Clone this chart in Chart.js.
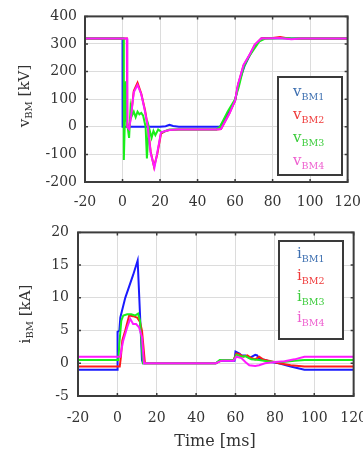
<!DOCTYPE html>
<html>
<head>
<meta charset="utf-8">
<script src="https://cdn.jsdelivr.net/npm/chart.js@4.4.1/dist/chart.umd.min.js"></script>
<style>
  html, body { margin: 0; padding: 0; background: #fff; overflow: hidden; }
  body { width: 363px; height: 455px; position: relative; font-family: "DejaVu Serif", serif; color: #333; }
  .box { position: absolute; }
  .ytitle { position: absolute; white-space: nowrap; font-size: 15px; transform: translate(-50%, -50%) rotate(-90deg); }
  .ytitle sub { font-size: 10px; vertical-align: -3px; }
  .legend { position: absolute; border: 2px solid #3a3a3a; background: #fff; box-sizing: border-box; }
  .entry { position: absolute; white-space: nowrap; font-size: 15px; line-height: 15px; }
  .entry sub { font-size: 9.5px; vertical-align: -4px; }
  .xtitle { position: absolute; font-size: 16px; white-space: nowrap; transform: translate(-50%, -50%); }
</style>
</head>
<body>
<div class="box" style="left:0;top:0;width:373px;height:228px"><canvas id="vChart"></canvas></div>
<div class="box" style="left:0;top:215px;width:381px;height:240px"><canvas id="iChart"></canvas></div>

<div class="ytitle" style="left:24px;top:96px">v<sub>BM</sub> [kV]</div>
<div class="ytitle" style="left:25px;top:314px">i<sub>BM</sub> [kA]</div>
<div class="xtitle" style="left:215px;top:440px">Time [ms]</div>

<div class="legend" style="left:277px;top:76px;width:66px;height:100px"></div>
<div class="entry" style="left:293px;top:84px;color:#3d6fb0">v<sub>BM1</sub></div>
<div class="entry" style="left:293px;top:107px;color:#ef3a3a">v<sub>BM2</sub></div>
<div class="entry" style="left:293px;top:130px;color:#3ccc3c">v<sub>BM3</sub></div>
<div class="entry" style="left:293px;top:153px;color:#ee5fcf">v<sub>BM4</sub></div>

<div class="legend" style="left:278px;top:240px;width:66px;height:100px"></div>
<div class="entry" style="left:297px;top:246px;color:#3d6fb0">i<sub>BM1</sub></div>
<div class="entry" style="left:297px;top:268px;color:#ef3a3a">i<sub>BM2</sub></div>
<div class="entry" style="left:297px;top:289px;color:#3ccc3c">i<sub>BM3</sub></div>
<div class="entry" style="left:297px;top:310px;color:#ee5fcf">i<sub>BM4</sub></div>

<script>
// ---- axis ticks ----
const timeTicks = [-20, 0, 20, 40, 60, 80, 100, 120];
const vTicks = [-200, -100, 0, 100, 200, 300, 400];
const iTicks = [-5, 0, 5, 10, 15, 20];

// ---- voltage v_BM [kV] ----
const vTime1 = [-20, 0, 0.05, 20, 23, 25, 27, 30, 50, 52, 60, 62, 65, 68, 71, 74, 80, 90, 120];
const vBM1   = [320, 320, 0, 0, 2, 7, 3, 0, 0, 0, 95, 160, 220, 262, 298, 320, 322, 320, 320];

const vTime2 = [-20, 2.3, 2.5, 3.5, 4.5, 6, 8, 10, 12, 13.5, 15, 16.8, 18.5, 20.5, 23, 25, 30, 50, 52.5, 57, 60, 61.5, 64.5, 68, 70.5, 74, 80, 84, 90, 95, 120];
const vBM2   = [320, 320, 0, -5, 40, 130, 160, 120, 60, 0, -90, -145, -100, -25, -15, -12, -10, -10, -8, 50, 95, 150, 222, 263, 297, 320, 322, 325, 318, 320, 320];

const vTime3 = [-20, 0.6, 0.7, 1.8, 2.3, 3.5, 4.3, 5, 6, 7, 8, 9, 10, 11, 12.3, 13, 14, 15.5, 16.5, 17.5, 19, 21, 25, 30, 50, 52, 56, 60, 62, 64.5, 67, 71, 73, 76, 80, 85, 90, 120];
const vBM3   = [320, 320, -120, 165, 20, -40, 70, 40, 55, 35, 55, 45, 50, 40, 0, -115, 0, -40, -15, -30, -10, -20, -10, -10, -10, 0, 55, 100, 145, 215, 250, 290, 310, 320, 320, 322, 320, 320];

const vTime4 = [-20, 2.4, 2.6, 3.5, 4.5, 6, 8, 10, 12, 13.5, 15, 17, 18.5, 20.5, 23, 25, 30, 50, 52.5, 57, 60, 61.5, 64.5, 68, 70.5, 74, 80, 84, 90, 95, 120];
const vBM4   = [320, 320, 0, -8, 35, 125, 152, 118, 55, 0, -95, -148, -95, -20, -15, -12, -10, -10, -8, 48, 95, 152, 224, 265, 298, 320, 321, 322, 317, 320, 320];

// ---- current i_BM [kA] ----
const iTime1 = [-20, 0, 0.1, 1, 1.5, 4, 8, 10.3, 12.5, 13, 50, 52, 55, 59.5, 60, 62, 63, 65, 67, 70, 71, 72, 75, 78, 82, 88, 95, 120];
const iBM1   = [-1, -1, 4.8, 5, 7, 10, 13.5, 15.7, 0.5, 0, 0, 0.4, 0.4, 0.4, 1.8, 1.5, 1.2, 1.2, 0.8, 1.3, 1.2, 0.7, 0.5, 0.2, 0, -0.5, -1, -1];

const iTime2 = [-20, 1.2, 1.8, 2.5, 4, 6, 8, 10, 11.5, 12.5, 14, 50, 53, 59, 60.5, 62, 64, 66, 68, 70, 72, 74, 78, 82, 88, 95, 120];
const iBM2   = [-0.5, -0.5, 1, 3.5, 5, 7.3, 7.2, 7, 6.3, 5, 0, 0, 0.5, 0.5, 1.5, 1.4, 1.0, 1.2, 0.8, 0.6, 1.0, 0.6, 0.3, 0, -0.3, -0.5, -0.5];

const iTime3 = [-20, 0.5, 1, 2, 3, 5, 7, 9, 10.5, 11.5, 13, 50, 52, 59, 60.5, 63, 65, 68, 72, 76, 80, 84, 90, 95, 120];
const iBM3   = [0.5, 0.5, 3, 6.5, 7.3, 7.5, 7.5, 7.3, 7.6, 6.5, 0, 0, 0.5, 0.5, 1.3, 1.0, 1.1, 0.6, 0.5, 0.3, 0.2, 0.2, 0.4, 0.5, 0.5];

const iTime4 = [-20, 1.5, 2, 3, 5, 6.5, 8, 9.5, 11, 12.5, 13.5, 50, 53, 59, 60.5, 63, 65, 67, 70, 72, 75, 80, 85, 90, 95, 120];
const iBM4   = [1, 1, 2, 3.5, 5.5, 6.8, 6, 6, 5.5, 4, 0, 0, 0.4, 0.4, 1.0, 0.8, 0.2, -0.3, -0.4, -0.3, 0, 0.2, 0.3, 0.6, 1, 1];

const colors = ['#1a1aff', '#ff1a1a', '#1aee1a', '#ff1aff'];
const tickFont = { family: 'DejaVu Serif', size: 14 };

function toPoints(ts, vs) {
  return ts.map((t, k) => ({ x: t, y: vs[k] }));
}

function makeDatasets(series) {
  // first series (blue) at the bottom, magenta on top
  return series.map((s, k) => ({
    data: toPoints(s[0], s[1]),
    borderColor: colors[k],
    borderWidth: 2,
    pointRadius: 0,
    tension: 0,
    order: 4 - k
  }));
}

// box frame with small inward tick marks
const framePlugin = {
  id: 'frame',
  afterDatasetsDraw(chart) {
    const { ctx, chartArea: a, scales } = chart;
    ctx.save();
    ctx.strokeStyle = '#3c3c3c';
    ctx.lineWidth = 1.5;
    ctx.beginPath();
    for (const t of scales.x.ticks) {
      const px = scales.x.getPixelForValue(t.value);
      ctx.moveTo(px, a.bottom); ctx.lineTo(px, a.bottom - 3);
      ctx.moveTo(px, a.top); ctx.lineTo(px, a.top + 3);
    }
    for (const t of scales.y.ticks) {
      const py = scales.y.getPixelForValue(t.value);
      ctx.moveTo(a.left, py); ctx.lineTo(a.left + 3, py);
      ctx.moveTo(a.right, py); ctx.lineTo(a.right - 3, py);
    }
    ctx.stroke();
    ctx.lineWidth = 2;
    ctx.strokeRect(a.left, a.top, a.right - a.left, a.bottom - a.top);
    ctx.restore();
  }
};

function makeChart(id, series, yTicks, opts) {
  new Chart(document.getElementById(id), {
    type: 'line',
    data: { datasets: makeDatasets(series) },
    options: {
      responsive: true,
      maintainAspectRatio: false,
      animation: false,
      layout: { padding: opts.padding },
      plugins: { legend: { display: false }, tooltip: { enabled: false } },
      scales: {
        x: {
          type: 'linear',
          min: timeTicks[0],
          max: timeTicks[timeTicks.length - 1],
          afterBuildTicks: s => { s.ticks = timeTicks.map(v => ({ value: v })); },
          afterFit: s => { s.height = opts.xHeight; },
          grid: { color: '#dcdcdc', lineWidth: 1, drawTicks: false },
          border: { display: false },
          ticks: { font: tickFont, color: '#333', padding: opts.xPad, maxRotation: 0 }
        },
        y: {
          min: yTicks[0],
          max: yTicks[yTicks.length - 1],
          afterBuildTicks: s => { s.ticks = yTicks.map(v => ({ value: v })); },
          afterFit: s => { s.width = opts.yWidth; },
          grid: { color: '#dcdcdc', lineWidth: 1, drawTicks: false },
          border: { display: false },
          ticks: { font: tickFont, color: '#333', padding: opts.yPad }
        }
      }
    },
    plugins: [framePlugin]
  });
}

makeChart('vChart', [[vTime1, vBM1], [vTime2, vBM2], [vTime3, vBM3], [vTime4, vBM4]], vTicks,
  { padding: { top: 0, right: 0, left: 0, bottom: 0 }, xHeight: 46, yWidth: 85, xPad: 12, yPad: 8 });

makeChart('iChart', [[iTime1, iBM1], [iTime2, iBM2], [iTime3, iBM3], [iTime4, iBM4]], iTicks,
  { padding: { top: 0, right: 0, left: 0, bottom: 0 }, xHeight: 59, yWidth: 78, xPad: 14, yPad: 9 });
</script>
</body>
</html>
